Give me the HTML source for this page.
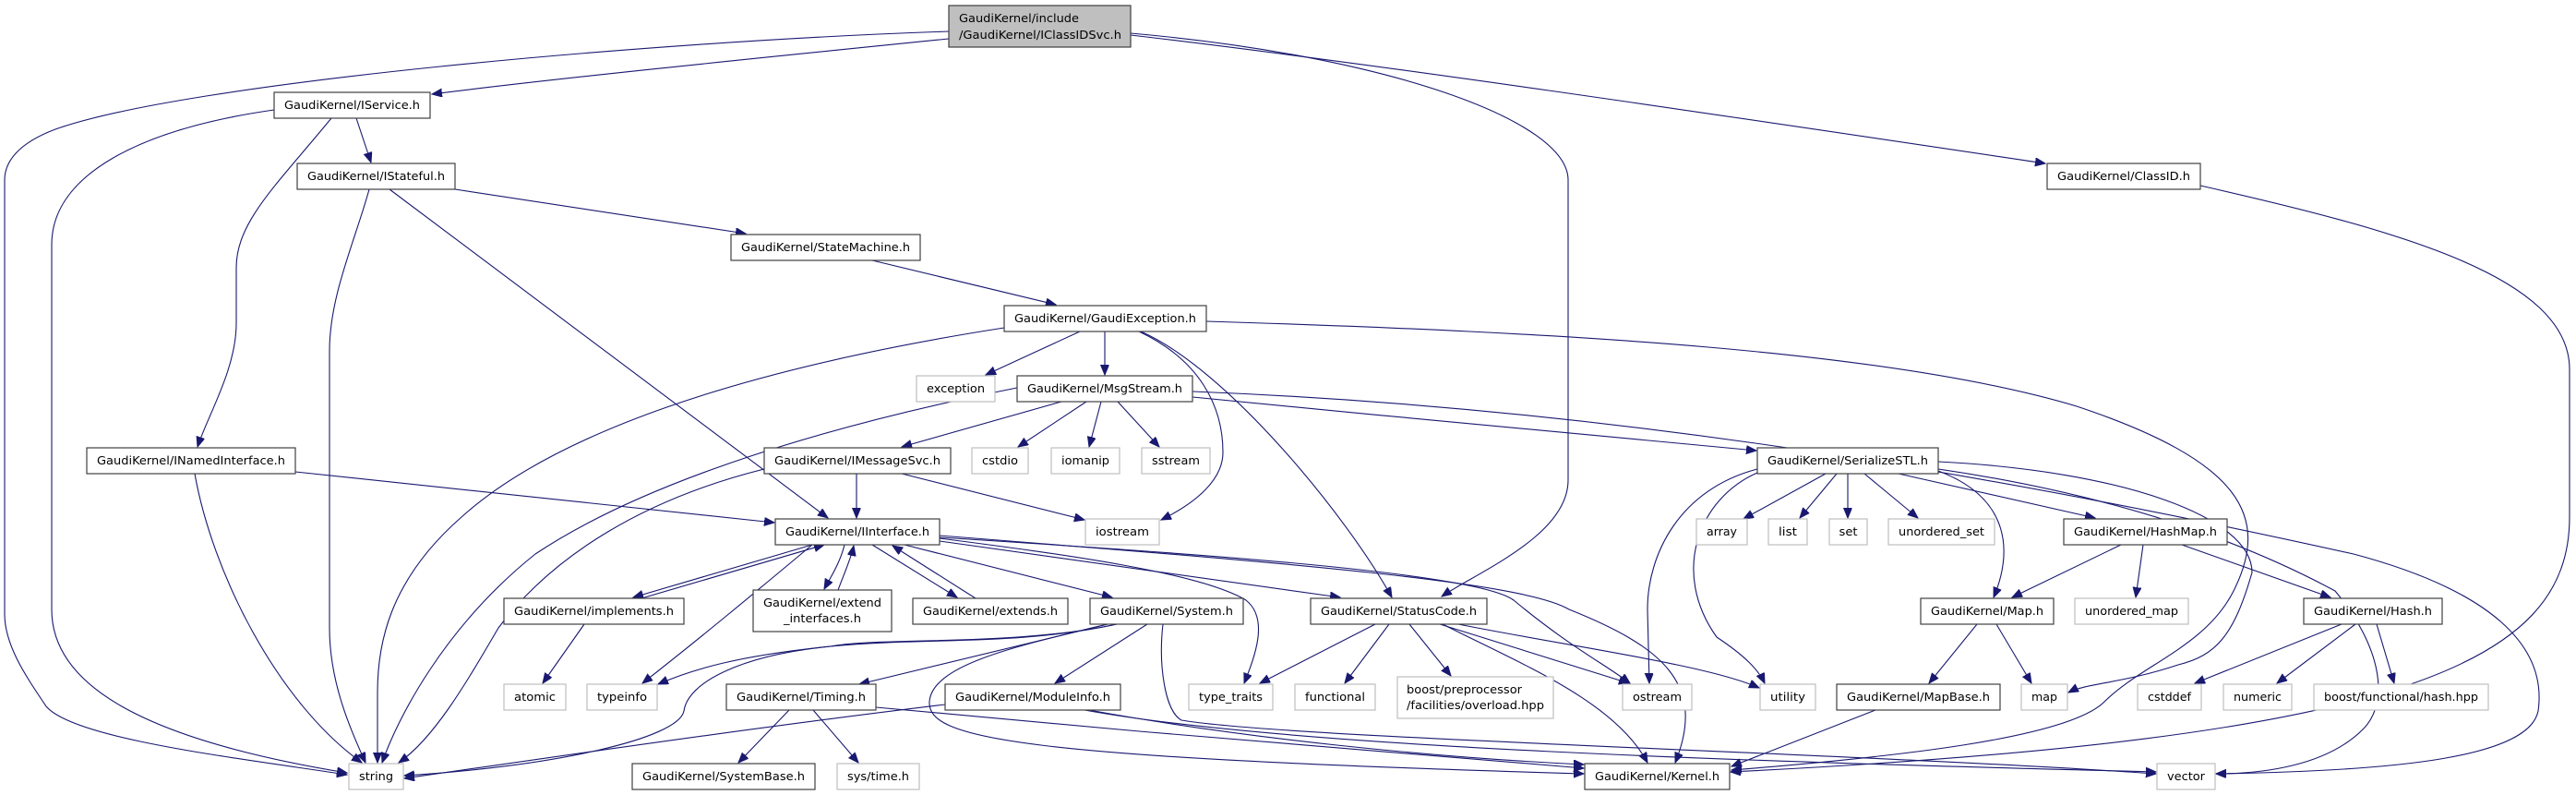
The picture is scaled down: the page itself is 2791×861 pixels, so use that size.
<!DOCTYPE html>
<html><head><meta charset="utf-8"><style>
html,body{margin:0;padding:0;background:#fff;}
svg{display:block;}
text{font-family:"DejaVu Sans","Liberation Sans",sans-serif;font-size:12px;fill:#000;}
.e{fill:none;stroke:#191970;stroke-width:1.1;marker-end:url(#a);}
.n{fill:#fff;stroke:#404040;stroke-width:1.2;}
.g{fill:#fff;stroke:#bfbfbf;stroke-width:1.2;}
</style></head><body>
<svg width="2791" height="861" viewBox="0 0 2791 861" xmlns="http://www.w3.org/2000/svg">
<defs><marker id="a" markerUnits="userSpaceOnUse" markerWidth="12" markerHeight="10" refX="11" refY="4.5" orient="auto"><path d="M0,0 L11,4.5 L0,9 z" fill="#191970" stroke="#191970"/></marker></defs>

<!-- edges -->
<g>
<!-- root -->
<path class="e" d="M1028,34 C700,45 200,90 60,140 C20,155 5,175 5,195 L5,665 C5,700 30,735 50,765 C80,800 250,820 376,839"/>
<path class="e" d="M1028,42 C850,60 600,85 468,102"/>
<path class="e" d="M1225,38 C1500,70 1900,130 2216,177"/>
<path class="e" d="M1225,36 C1500,60 1699,130 1699,195 L1699,520 C1699,580 1600,620 1562,646"/>
<!-- IService -->
<path class="e" d="M297,119 C150,140 56,190 56,265 L56,660 C56,740 150,800 376,837"/>
<path class="e" d="M359,128 C300,200 256,240 256,290 L256,350 C256,400 225,450 214,484"/>
<path class="e" d="M386,128 L402,176"/>
<!-- IStateful -->
<path class="e" d="M400,205 C385,260 357,320 357,380 L357,680 C357,740 380,790 396,826"/>
<path class="e" d="M422,205 L897,561"/>
<path class="e" d="M493,205 L808,253"/>
<!-- StateMachine -->
<path class="e" d="M945,282 L1144,330"/>
<!-- ClassID -->
<path class="e" d="M2384,201 C2600,250 2784,300 2784,400 L2784,560 C2784,720 2600,800 1875,836"/>
<!-- GaudiException -->
<path class="e" d="M1088,355 C800,400 600,470 500,560 C420,630 409,700 409,750 L409,826"/>
<path class="e" d="M1170,359 L1068,406"/>
<path class="e" d="M1197,359 L1197,406"/>
<path class="e" d="M1234,359 C1300,390 1325,440 1325,490 C1325,520 1295,545 1258,563"/>
<path class="e" d="M1236,359 C1330,400 1460,560 1508,647"/>
<path class="e" d="M1307,348 C1700,360 2050,380 2250,440 C2430,500 2460,560 2420,640 C2390,700 2320,720 2280,760 C2240,800 2050,820 1876,834"/>
<!-- MsgStream -->
<path class="e" d="M1102,420 C900,460 700,520 580,600 C480,680 430,780 414,826"/>
<path class="e" d="M1150,435 L977,484"/>
<path class="e" d="M1177,435 L1103,484"/>
<path class="e" d="M1193,435 L1180,484"/>
<path class="e" d="M1211,435 L1256,484"/>
<path class="e" d="M1292,430 C1500,450 1750,475 1903,488"/>
<path class="e" d="M1292,424 C1700,440 2100,500 2550,600 C2700,640 2760,700 2750,770 C2740,820 2600,835 2401,838"/>
<!-- IMessageSvc -->
<path class="e" d="M828,508 C700,540 600,600 540,680 C505,740 470,800 432,826"/>
<path class="e" d="M977,513 L1175,563"/>
<path class="e" d="M928,513 L928,561"/>
<!-- INamedInterface -->
<path class="e" d="M211,513 C230,620 300,760 392,826"/>
<path class="e" d="M320,511 L839,566"/>
<!-- IInterface -->
<path class="e" d="M880,590 L686,647"/>
<path class="e" d="M695,648 L893,590"/>
<path class="e" d="M915,590 C910,610 900,625 893,638"/>
<path class="e" d="M908,639 C915,620 922,605 925,591"/>
<path class="e" d="M945,590 L1037,647"/>
<path class="e" d="M1057,648 L967,591"/>
<path class="e" d="M880,590 C820,640 760,690 696,740"/>
<path class="e" d="M980,590 L1205,647"/>
<path class="e" d="M1018,586 L1452,647"/>
<path class="e" d="M1018,583 C1150,600 1300,620 1350,650 C1375,670 1360,710 1348,740"/>
<path class="e" d="M1018,582 C1300,600 1600,620 1640,650 C1700,700 1740,720 1766,740"/>
<path class="e" d="M1018,580 C1400,610 1650,630 1700,660 C1800,700 1850,740 1815,826"/>
<!-- implements -->
<path class="e" d="M633,676 L588,740"/>
<!-- System -->
<path class="e" d="M1210,676 C1100,700 950,690 900,700 C800,710 750,725 713,741"/>
<path class="e" d="M1210,676 C1100,700 1000,690 900,700 C800,710 745,740 741,770 C735,800 600,830 438,840"/>
<path class="e" d="M1200,676 L931,741"/>
<path class="e" d="M1243,676 L1143,740"/>
<path class="e" d="M1200,676 C1100,700 1010,720 1007,760 C1005,800 1100,820 1716,838"/>
<path class="e" d="M1260,676 C1255,720 1262,770 1280,780 C1400,800 2000,815 2336,838"/>
<!-- Timing -->
<path class="e" d="M855,769 L800,826"/>
<path class="e" d="M881,769 L930,826"/>
<path class="e" d="M949,766 C1200,790 1500,815 1716,832"/>
<!-- ModuleInfo -->
<path class="e" d="M1024,763 C800,790 600,820 438,843"/>
<path class="e" d="M1180,769 C1350,800 1550,820 1716,828"/>
<path class="e" d="M1175,769 C1400,810 1900,825 2336,836"/>
<!-- StatusCode -->
<path class="e" d="M1490,676 L1365,740"/>
<path class="e" d="M1505,676 L1457,740"/>
<path class="e" d="M1527,676 L1572,732"/>
<path class="e" d="M1560,676 L1765,740"/>
<path class="e" d="M1563,676 C1650,720 1750,760 1785,826"/>
<path class="e" d="M1580,676 C1700,700 1850,720 1906,745"/>
<!-- SerializeSTL -->
<path class="e" d="M1978,513 L1889,562"/>
<path class="e" d="M1990,513 L1950,561"/>
<path class="e" d="M2002,513 L2002,561"/>
<path class="e" d="M2020,513 L2078,561"/>
<path class="e" d="M2057,513 L2270,561"/>
<path class="e" d="M2100,510 C2180,540 2180,600 2160,647"/>
<path class="e" d="M1904,508 C1820,530 1785,600 1785,660 L1787,740"/>
<path class="e" d="M1904,512 C1840,540 1810,620 1860,690 C1890,710 1905,725 1912,740"/>
<path class="e" d="M2100,500 C2300,510 2440,560 2440,620 C2420,690 2400,710 2360,720 C2300,740 2260,740 2241,750"/>
<path class="e" d="M2100,508 C2250,530 2400,570 2530,640 C2580,700 2590,760 2560,790 C2520,830 2450,838 2401,838"/>
<!-- HashMap -->
<path class="e" d="M2298,590 L2180,647"/>
<path class="e" d="M2322,590 L2314,647"/>
<path class="e" d="M2364,590 L2525,647"/>
<!-- Map -->
<path class="e" d="M2142,676 L2090,740"/>
<path class="e" d="M2163,676 L2201,740"/>
<!-- Hash -->
<path class="e" d="M2537,676 L2378,740"/>
<path class="e" d="M2552,676 L2467,740"/>
<path class="e" d="M2575,676 L2594,740"/>
<!-- MapBase -->
<path class="e" d="M2032,769 L1876,830"/>
</g>

<!-- nodes -->
<g>
<rect x="1028" y="6" width="197" height="45" fill="#bfbfbf" stroke="#404040" stroke-width="1.2"/>
<text x="1039" y="24" textLength="130" lengthAdjust="spacingAndGlyphs">GaudiKernel/include</text>
<text x="1039" y="42" textLength="176" lengthAdjust="spacingAndGlyphs">/GaudiKernel/IClassIDSvc.h</text>

<rect class="n" x="297" y="100" width="169" height="28"/><text x="381.5" y="118" text-anchor="middle" textLength="147" lengthAdjust="spacingAndGlyphs">GaudiKernel/IService.h</text>
<rect class="n" x="322" y="177" width="171" height="28"/><text x="407.5" y="195" text-anchor="middle" textLength="149" lengthAdjust="spacingAndGlyphs">GaudiKernel/IStateful.h</text>
<rect class="n" x="792" y="254" width="205" height="28"/><text x="894.5" y="272" text-anchor="middle" textLength="183" lengthAdjust="spacingAndGlyphs">GaudiKernel/StateMachine.h</text>
<rect class="n" x="2218" y="177" width="166" height="28"/><text x="2301" y="195" text-anchor="middle" textLength="144" lengthAdjust="spacingAndGlyphs">GaudiKernel/ClassID.h</text>
<rect class="n" x="1088" y="331" width="219" height="28"/><text x="1197.5" y="349" text-anchor="middle" textLength="197" lengthAdjust="spacingAndGlyphs">GaudiKernel/GaudiException.h</text>
<rect class="g" x="993" y="407" width="85" height="28"/><text x="1035.5" y="425" text-anchor="middle" textLength="63" lengthAdjust="spacingAndGlyphs">exception</text>
<rect class="n" x="1102" y="407" width="190" height="28"/><text x="1197" y="425" text-anchor="middle" textLength="168" lengthAdjust="spacingAndGlyphs">GaudiKernel/MsgStream.h</text>
<rect class="n" x="94" y="485" width="226" height="28"/><text x="207" y="503" text-anchor="middle" textLength="204" lengthAdjust="spacingAndGlyphs">GaudiKernel/INamedInterface.h</text>
<rect class="n" x="828" y="485" width="202" height="28"/><text x="929" y="503" text-anchor="middle" textLength="180" lengthAdjust="spacingAndGlyphs">GaudiKernel/IMessageSvc.h</text>
<rect class="g" x="1053" y="485" width="61" height="28"/><text x="1083.5" y="503" text-anchor="middle" textLength="39" lengthAdjust="spacingAndGlyphs">cstdio</text>
<rect class="g" x="1139" y="485" width="74" height="28"/><text x="1176" y="503" text-anchor="middle" textLength="52" lengthAdjust="spacingAndGlyphs">iomanip</text>
<rect class="g" x="1237" y="485" width="74" height="28"/><text x="1274" y="503" text-anchor="middle" textLength="52" lengthAdjust="spacingAndGlyphs">sstream</text>
<rect class="n" x="1904" y="485" width="196" height="28"/><text x="2002" y="503" text-anchor="middle" textLength="174" lengthAdjust="spacingAndGlyphs">GaudiKernel/SerializeSTL.h</text>
<rect class="n" x="840" y="562" width="178" height="28"/><text x="929" y="580" text-anchor="middle" textLength="156" lengthAdjust="spacingAndGlyphs">GaudiKernel/IInterface.h</text>
<rect class="g" x="1176" y="562" width="80" height="28"/><text x="1216" y="580" text-anchor="middle" textLength="58" lengthAdjust="spacingAndGlyphs">iostream</text>
<rect class="g" x="1838" y="562" width="55" height="28"/><text x="1865.5" y="580" text-anchor="middle" textLength="33" lengthAdjust="spacingAndGlyphs">array</text>
<rect class="g" x="1916" y="562" width="42" height="28"/><text x="1937" y="580" text-anchor="middle" textLength="20" lengthAdjust="spacingAndGlyphs">list</text>
<rect class="g" x="1982" y="562" width="41" height="28"/><text x="2002.5" y="580" text-anchor="middle" textLength="20" lengthAdjust="spacingAndGlyphs">set</text>
<rect class="g" x="2046" y="562" width="115" height="28"/><text x="2103.5" y="580" text-anchor="middle" textLength="93" lengthAdjust="spacingAndGlyphs">unordered_set</text>
<rect class="n" x="2236" y="562" width="177" height="28"/><text x="2324.5" y="580" text-anchor="middle" textLength="155" lengthAdjust="spacingAndGlyphs">GaudiKernel/HashMap.h</text>
<rect class="n" x="546" y="648" width="195" height="28"/><text x="643.5" y="666" text-anchor="middle" textLength="173" lengthAdjust="spacingAndGlyphs">GaudiKernel/implements.h</text>
<rect class="n" x="816" y="639" width="150" height="45"/>
<text x="891" y="657" text-anchor="middle" textLength="128" lengthAdjust="spacingAndGlyphs">GaudiKernel/extend</text>
<text x="891" y="674" text-anchor="middle" textLength="84" lengthAdjust="spacingAndGlyphs">_interfaces.h</text>
<rect class="n" x="989" y="648" width="168" height="28"/><text x="1073" y="666" text-anchor="middle" textLength="146" lengthAdjust="spacingAndGlyphs">GaudiKernel/extends.h</text>
<rect class="n" x="1181" y="648" width="166" height="28"/><text x="1264" y="666" text-anchor="middle" textLength="144" lengthAdjust="spacingAndGlyphs">GaudiKernel/System.h</text>
<rect class="n" x="1420" y="648" width="191" height="28"/><text x="1515.5" y="666" text-anchor="middle" textLength="169" lengthAdjust="spacingAndGlyphs">GaudiKernel/StatusCode.h</text>
<rect class="n" x="2081" y="648" width="144" height="28"/><text x="2153" y="666" text-anchor="middle" textLength="122" lengthAdjust="spacingAndGlyphs">GaudiKernel/Map.h</text>
<rect class="g" x="2248" y="648" width="123" height="28"/><text x="2309.5" y="666" text-anchor="middle" textLength="101" lengthAdjust="spacingAndGlyphs">unordered_map</text>
<rect class="n" x="2496" y="648" width="150" height="28"/><text x="2571" y="666" text-anchor="middle" textLength="128" lengthAdjust="spacingAndGlyphs">GaudiKernel/Hash.h</text>
<rect class="g" x="546" y="741" width="67" height="28"/><text x="579.5" y="759" text-anchor="middle" textLength="45" lengthAdjust="spacingAndGlyphs">atomic</text>
<rect class="g" x="636" y="741" width="76" height="28"/><text x="674" y="759" text-anchor="middle" textLength="54" lengthAdjust="spacingAndGlyphs">typeinfo</text>
<rect class="n" x="787" y="741" width="162" height="28"/><text x="868" y="759" text-anchor="middle" textLength="140" lengthAdjust="spacingAndGlyphs">GaudiKernel/Timing.h</text>
<rect class="n" x="1024" y="741" width="190" height="28"/><text x="1119" y="759" text-anchor="middle" textLength="168" lengthAdjust="spacingAndGlyphs">GaudiKernel/ModuleInfo.h</text>
<rect class="g" x="1288" y="741" width="91" height="28"/><text x="1333.5" y="759" text-anchor="middle" textLength="69" lengthAdjust="spacingAndGlyphs">type_traits</text>
<rect class="g" x="1403" y="741" width="87" height="28"/><text x="1446.5" y="759" text-anchor="middle" textLength="65" lengthAdjust="spacingAndGlyphs">functional</text>
<rect class="g" x="1514" y="733" width="169" height="45"/>
<text x="1524" y="751" textLength="125" lengthAdjust="spacingAndGlyphs">boost/preprocessor</text>
<text x="1524" y="768" textLength="149" lengthAdjust="spacingAndGlyphs">/facilities/overload.hpp</text>
<rect class="g" x="1758" y="741" width="75" height="28"/><text x="1795.5" y="759" text-anchor="middle" textLength="53" lengthAdjust="spacingAndGlyphs">ostream</text>
<rect class="g" x="1907" y="741" width="60" height="28"/><text x="1937" y="759" text-anchor="middle" textLength="38" lengthAdjust="spacingAndGlyphs">utility</text>
<rect class="n" x="1990" y="741" width="177" height="28"/><text x="2078.5" y="759" text-anchor="middle" textLength="155" lengthAdjust="spacingAndGlyphs">GaudiKernel/MapBase.h</text>
<rect class="g" x="2190" y="741" width="50" height="28"/><text x="2215" y="759" text-anchor="middle" textLength="28" lengthAdjust="spacingAndGlyphs">map</text>
<rect class="g" x="2316" y="741" width="69" height="28"/><text x="2350.5" y="759" text-anchor="middle" textLength="47" lengthAdjust="spacingAndGlyphs">cstddef</text>
<rect class="g" x="2409" y="741" width="74" height="28"/><text x="2446" y="759" text-anchor="middle" textLength="52" lengthAdjust="spacingAndGlyphs">numeric</text>
<rect class="g" x="2507" y="741" width="189" height="28"/><text x="2601.5" y="759" text-anchor="middle" textLength="167" lengthAdjust="spacingAndGlyphs">boost/functional/hash.hpp</text>
<rect class="g" x="378" y="827" width="59" height="28"/><text x="407.5" y="845" text-anchor="middle" textLength="37" lengthAdjust="spacingAndGlyphs">string</text>
<rect class="n" x="685" y="827" width="198" height="28"/><text x="784" y="845" text-anchor="middle" textLength="176" lengthAdjust="spacingAndGlyphs">GaudiKernel/SystemBase.h</text>
<rect class="g" x="907" y="827" width="89" height="28"/><text x="951.5" y="845" text-anchor="middle" textLength="67" lengthAdjust="spacingAndGlyphs">sys/time.h</text>
<rect class="n" x="1717" y="827" width="157" height="28"/><text x="1795.5" y="845" text-anchor="middle" textLength="135" lengthAdjust="spacingAndGlyphs">GaudiKernel/Kernel.h</text>
<rect class="g" x="2337" y="827" width="63" height="28"/><text x="2368.5" y="845" text-anchor="middle" textLength="41" lengthAdjust="spacingAndGlyphs">vector</text>
</g>
</svg>
</body></html>
